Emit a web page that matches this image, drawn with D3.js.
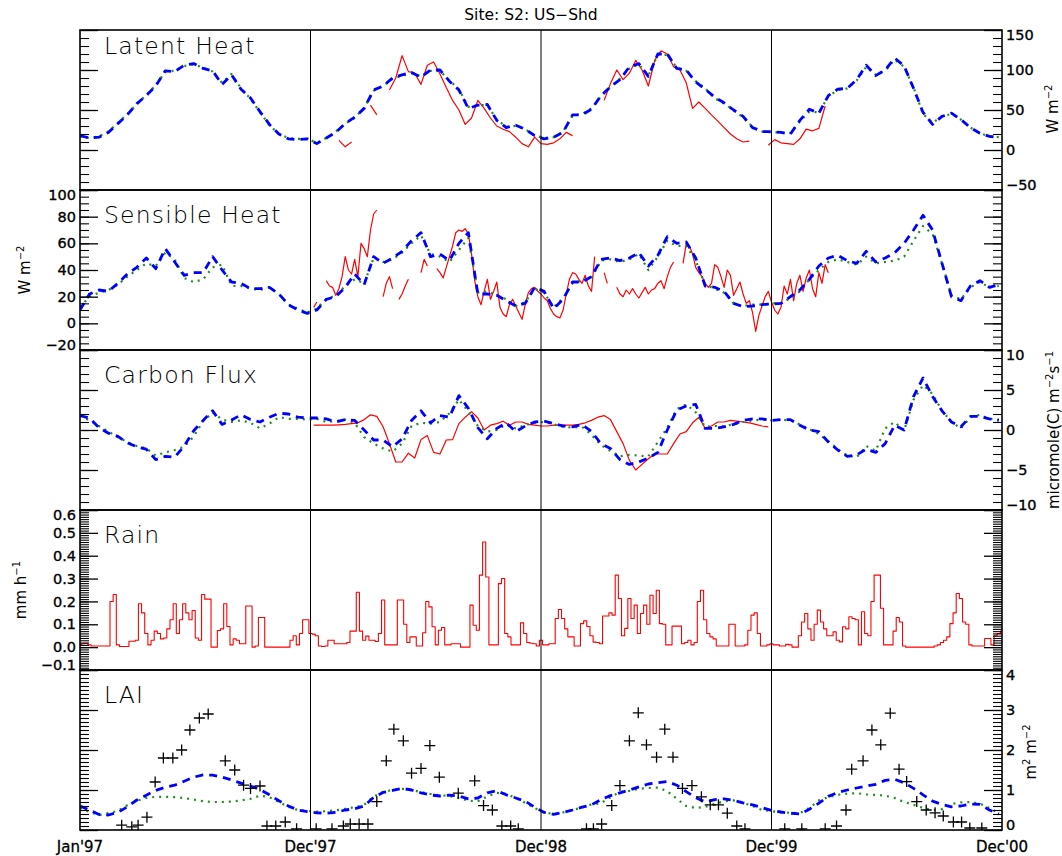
<!DOCTYPE html>
<html>
<head>
<meta charset="utf-8">
<script src="https://cdn.jsdelivr.net/npm/d3@7"></script>
<style>
  body { margin: 0; background: #fff; }
  svg text { font-family: "DejaVu Sans", "Liberation Sans", sans-serif; fill: #000; }
</style>
</head>
<body>
<svg id="chart" width="1062" height="856"></svg>
<script>
// ---------------- time axis ----------------
const dayTicks  = [0, 365, 730, 1095, 1460];
const dayLabels = ["Jan'97", "Dec'97", "Dec'98", "Dec'99", "Dec'00"];

// model series: one value every 15 days from day 0
const modelStart = 0, modelStep = 15;

// ---------------- Latent Heat (W m-2) ----------------
const leTicks = [-50, 0, 50, 100, 150];
const leTickLabels = ["\u221250", "0", "50", "100", "150"];
const leModelA = [18,15,16,22,33,44,58,68,80,99, 98,106,108,102,99,82,94,76,65,48,
  32,20,14,13,14,8,15,22,33,41, 52,75,80,90,94,97,91,100,100,86,
  75,52,56,57,37,28,31,26,18,14, 16,22,44,44,51,68,79,88,104,108,
  92,120,120,102,100,85,76,66,59,50, 42,28,23,23,22,20,37,51,46,68,
  76,77,88,106,93,100,115,105,77,47, 32,42,46,38,28,21,17,16];
const leModelB = [17,15,17,23,34,45,57,69,81,98, 99,105,107,103,98,84,95,77,64,47,
  31,20,15,14,14,9,15,23,33,40, 53,74,80,89,93,96,92,99,99,87,
  76,54,56,56,38,29,30,26,18,15, 16,23,43,45,52,67,79,89,102,107,
  93,119,119,103,99,86,77,65,58,50, 41,29,23,22,22,21,36,48,47,67,
  75,77,87,104,94,99,113,104,78,45, 34,42,45,38,28,21,17,16];
const leObsStart = 390, leObsStep = 10;
const leObs = [null,null,12,4,10,null,null,56,44,null, 75,90,118,98,96,82,106,110,95,78,
  62,50,32,40,62,52,40,30,26,23, 16,8,4,16,8,7,9,14,22,18,
  null,null,null,null,62,83,100,88,96,112, 100,80,112,124,120,104,100,84,52,60,
  52,44,36,28,20,14,10,11,null,null, 6,13,9,8,7,14,26,24,27,55];

// ---------------- Sensible Heat (W m-2) ----------------
const shTicks = [-20, 0, 20, 40, 60, 80, 100];
const shTickLabels = ["\u221220", "0", "20", "40", "60", "80", "100"];
const shModelA = [10,22,25,24,30,37,42,49,41,56, 46,36,38,38,50,40,31,30,26,26,
  27,22,14,10,7.5,10,18,20,27,37, 29,50,45,49,54,62,68,50,52,47,
  60,68,22,22,21,17,13,15,27,24, 11,18,31,31,35,48,49,47,49,53,
  43,51,65,60,61,49,28,27,24,15, 12.5,13,14,14.5,15,20,25,33,43,49,
  51,47,45,54,46,49,53,60,70,81, 70,45,20,17,28,32,27,29];
const shModelB = [12,20,23,25,29,35,40,45,43,53, 48,34,31,33,42,44,28,28,26,25,
  27,22,14,11,8,11,18,21,28,33, 30,49,46,48,53,60,66,52,50,46,
  55,64,23,24,21,18,13,16,26,23, 12,19,30,32,34,47,48,46,48,52,
  40,50,62,58,58,47,29,26,23,15, 13,14,14,15,15,19,24,33,40,46,
  48,46,44,50,45,46,47,50,62,73, 67,45,21,18,27,31,27,28];
const shObsStart = 370, shObsStep = 5;
const shObs = [12,16,null,null,32,28,27,21,26,35, 50,40,37,48,35,60,56,50,70,82,
  85,null,20,30,35,26,null,18,22,28, 33,null,null,null,38,48,43,null,null,41,
  38,34,42,50,58,68,70,69,71,67, 52,32,20,14,24,33,18,24,31,12,
  7,5,14,18,13,8,3,14,23,26, 27,24,22,19,17,11,7,5,4,10,
  22,33,38,37,33,30,36,28,24,50, null,null,38,30,null,null,27,22,20,25,
  22,26,22,19,23,27,22,25,26,30, 32,26,35,42,46,null,null,45,60,58,
  52,42,38,35,30,27,30,44,42,35, 27,40,36,21,26,31,22,15,17,8,
  -6,6,13,20,24,16,10,7,12,28, 22,33,17,30,36,24,34,40,26,20,
  38,30,44,38];

// ---------------- Carbon Flux (micromole(C) m-2 s-1) ----------------
const cfTicks = [-10, -5, 0, 5, 10];
const cfTickLabels = ["\u221210", "\u22125", "0", "5", "10"];
const cfModelA = [1.8,1.5,0.3,-0.4,-0.8,-1.6,-2.1,-2.4,-3.7,-3.3, -3.4,-2.0,-0.1,1.2,2.4,0.7,1.25,1.9,1.3,1.0,
  1.6,2.1,2.0,1.6,1.5,1.5,1.4,1.0,1.3,1.2, 0.0,-1.25,-1.25,-2.1,-1.1,1.2,2.4,0.9,1.8,1.6,
  4.3,2.7,0.3,-1.1,0.2,0.9,-0.2,0.5,1.0,1.1, 0.8,0.5,0.4,0.7,-0.2,-1.7,-2.3,-3.7,-4.3,-4.0,
  -3.5,-2.8,0.0,2.5,3.0,3.2,0.2,0.2,0.4,0.7, 1.2,1.4,1.4,1.2,1.3,1.3,0.6,0.0,-0.2,-1.5,
  -2.5,-3.3,-3.1,-2.4,-2.8,-1.7,0.6,0.0,4.2,6.5, 4.2,2.4,1.0,0.4,1.7,1.7,1.4,1.2];
const cfModelB = [1.8,1.2,0.5,-0.2,-0.9,-1.5,-2.0,-2.3,-3.2,-2.8, -2.5,-2.1,-0.8,1.1,2.2,1.3,1.0,1.2,0.9,0.2,
  0.8,1.6,1.4,1.4,1.3,1.4,1.0,1.1,1.3,0.9, -0.9,-1.7,-2.3,-2.7,-1.7,0.5,0.9,0.8,1.0,2.1,
  3.8,2.3,0.5,-0.2,0.0,0.7,0.2,0.6,0.9,1.0, 0.7,0.4,0.3,0.4,-0.6,-1.9,-2.6,-3.3,-3.1,-3.2,
  -3.3,-1.5,0.3,2.6,3.2,2.2,0.4,0.5,0.5,0.7, 1.0,1.2,1.3,1.2,1.3,1.2,0.7,0.1,-0.5,-1.4,
  -2.4,-3.2,-3.4,-2.0,-2.6,0.2,1.0,-0.1,3.8,5.6, 4.5,2.4,1.0,0.2,1.6,1.9,1.4,1.3];
const cfObsStart = 370, cfObsStep = 10;
const cfObs = [0.6,0.6,0.6,0.6,0.65,0.7,0.8,0.9,1.3,1.9, 1.7,0.4,-1.7,-4.0,-4.0,-2.9,-3.5,-1.2,-0.7,-2.8,
  -3.0,-1.25,-1.2,0.8,1.6,2.3,1.5,0.0,0.6,0.8, 1.1,0.6,1.0,1.0,0.7,0.6,0.5,0.5,0.6,0.6,
  0.6,0.6,0.7,0.9,1.2,1.6,1.8,1.3,-0.2,-1.7, -3.8,-5.0,-4.3,-3.6,-3.0,-3.0,-3.0,-1.7,-0.5,-0.2,
  0.9,1.6,0.2,0.5,1.0,1.0,1.2,1.1,1.0,0.9, 0.7,0.5,0.4];

// ---------------- Rain (mm h-1), one value every 5 days ----------------
const rainTicks = [-0.1, 0, 0.1, 0.2, 0.3, 0.4, 0.5, 0.6];
const rainTickLabels = ["\u22120.1", "0.0", "0.1", "0.2", "0.3", "0.4", "0.5", "0.6"];
const rainStart = 0, rainStep = 5;
const rain = [0.01,0.015,0.017,0.01,0.005,0.005,0.005,0.005,0.005,0.005,
  0.2,0.23,0.01,0.003,0.003,0.003,0.026,0.026,0.03,0.19,
  0.15,0.06,0.01,0.03,0.07,0.06,0.036,0.04,0.08,0.12,
  0.19,0.06,0.12,0.19,0.15,0.12,0.16,0.04,0.03,0.23,
  0.21,0.21,0.0,0.0,0.073,0.08,0.19,0.09,0.01,0.036,
  0.03,0.015,0.015,0.18,0.18,0.0,0.005,0.13,0.13,0.0,
  0,0,0,0,0,0,0,0.03,0.05,0.01,
  0.06,0.12,0.12,0.06,0.057,0.05,0.005,0.003,0.005,0.03,
  0.03,0.015,0.015,0.015,0.015,0.02,0.07,0.07,0.24,0.07,
  0.03,0.048,0.03,0.03,0.025,0.06,0.206,0.01,0.01,0.01,
  0.01,0.206,0.206,0.1,0.02,0.045,0.045,0.005,0.005,0.063,
  0.2,0.176,0.089,0.01,0.074,0.086,0.01,0.01,0.015,0.015,
  0.015,0,0,0,0.184,0.096,0.074,0.315,0.46,0.307,
  0.01,0.01,0.01,0.278,0.3,0.06,0.045,0.01,0.01,0.01,
  0.106,0.06,0.02,0.017,0.015,0.005,0.03,0.01,0.01,0.015,
  0.015,0.125,0.165,0.125,0.08,0.045,0.045,0.005,0.005,0.103,
  0.115,0.09,0.05,0.022,0.02,0.015,0.136,0.136,0.15,0.14,
  0.315,0.213,0.05,0.082,0.213,0.125,0.184,0.06,0.147,0.184,
  0.1,0.227,0.147,0.249,0.103,0.1,0.01,0.01,0.092,0.092,
  0.092,0.015,0.02,0.03,0.01,0.02,0.2,0.249,0.12,0.06,
  0.045,0.036,0.005,0.005,0.005,0.005,0.1,0.1,0.005,0.005,
  0.005,0.01,0.074,0.14,0.15,0.06,0.005,0.005,0.01,0.015,
  0.01,0.01,0.005,0.005,0.012,0.01,0,0,0.05,0.11,
  0.147,0.08,0.03,0.1,0.162,0.11,0.08,0.05,0.05,0.067,
  0.03,0.023,0.089,0.08,0.133,0.125,0.12,0.01,0.155,0.06,
  0.05,0.2,0.315,0.315,0.17,0.01,0.01,0.01,0.07,0.13,
  0.11,0.005,0,0,0,0,0,0,0,0,
  0,0.005,0.01,0.02,0.03,0.045,0.103,0.15,0.235,0.213,
  0.11,0.1,0.01,0.005,0.005,0.005,0.005,0.038,0.038,0.01,
  0.052,0.06,0.07];

// ---------------- LAI (m2 m-2) ----------------
const laiTicks = [0, 1, 2, 3, 4];
const laiTickLabels = ["0", "1", "2", "3", "4"];
const laiModelA = [0.6,0.5,0.39,0.375,0.44,0.58,0.75,0.87,0.99,1.07, 1.12,1.22,1.32,1.38,1.37,1.32,1.25,1.17,1.1,1.01,
  0.88,0.73,0.6,0.5,0.46,0.43,0.42,0.44,0.5,0.53, 0.6,0.82,0.94,0.99,1.04,1.0,0.93,0.875,0.85,0.87,
  0.85,0.78,0.8,0.93,0.98,0.88,0.8,0.72,0.57,0.44, 0.39,0.44,0.5,0.57,0.63,0.76,0.86,0.93,1.0,1.08,
  1.15,1.18,1.21,1.12,0.96,0.81,0.7,0.76,0.78,0.74, 0.68,0.63,0.56,0.49,0.45,0.42,0.4,0.52,0.67,0.84,
  0.94,1.0,1.05,1.1,1.14,1.24,1.27,1.18,1.04,0.88, 0.72,0.64,0.58,0.6,0.65,0.64,0.5,0.4];
const laiModelB = [0.55,0.45,0.37,0.42,0.48,0.62,0.73,0.8,0.83,0.83, 0.82,0.8,0.76,0.72,0.7,0.7,0.71,0.74,0.78,0.86,
  0.82,0.7,0.58,0.5,0.48,0.46,0.47,0.49,0.53,0.57, 0.63,0.84,0.95,1.0,1.03,1.0,0.95,0.9,0.87,0.85,
  0.8,0.73,0.72,0.84,0.93,0.9,0.8,0.68,0.55,0.44, 0.4,0.44,0.5,0.56,0.64,0.67,0.82,0.95,0.98,1.03,
  1.05,1.06,0.97,0.78,0.6,0.55,0.58,0.65,0.72,0.74, 0.68,0.6,0.5,0.47,0.44,0.43,0.42,0.55,0.74,0.82,
  0.88,0.91,0.92,0.89,0.875,0.86,0.8,0.7,0.63,0.55, 0.5,0.52,0.65,0.69,0.7,0.66,0.55,0.42];
const laiObsDays = [66,82,92,106,119,132,147,161,174,189,203,230,245,259,270,285,296,310,325,343,
  374,399,417,428,442,456,470,485,497,512,525,540,554,569,599,625,639,653,668,682,694,
  802,813,826,842,855,870,884,897,913,926,939,954,969,984,998,1011,1025,1040,1053,
  1116,1143,1180,1198,1213,1222,1240,1254,1268,1283,1297,1309,1325,1340,1354,1367,1383,1396,1409,1428];
const laiObs = [0.12,0.08,0.12,0.32,1.2,1.8,1.8,2.0,2.5,2.8,2.9,1.73,1.5,1.12,1.04,1.1,0.1,0.1,0.2,0.03,
  0.03,0.03,0.1,0.15,0.15,0.15,0.71,1.73,2.52,2.23,1.42,1.54,2.11,1.32,0.92,1.23,0.61,0.5,0.1,0.1,0.03,
  0.03,0.03,0.15,0.61,1.11,2.23,2.93,2.13,1.82,2.52,1.82,1.04,1.11,0.83,0.63,0.63,0.42,0.1,0.03,
  0.03,0.03,0.03,0.1,0.5,1.52,1.73,2.5,2.13,2.92,1.52,1.21,0.71,0.5,0.43,0.35,0.2,0.2,0.05,0.05];

// ---------------- layout ----------------
const X0 = 80, X1 = 1002, TOP = 30, PH = 160;
const svg = d3.select("#chart");
const x = d3.scaleLinear().domain([0, 1460]).range([X0, X1]);

const series = (start, step, vals) => vals.map((v, i) => ({ t: start + i * step, v }));

const BLUE = "#0000ff", GREEN = "#228b22", RED = "#ff0000";
const BLUE_DASH = "8,6", GREEN_DOT = "2,5";

const panels = [
  { title: "Latent Heat", titleBase: 24, domain: [-50, 150], ticks: leTicks, labels: leTickLabels, minor: 10, side: "right",
    unit: [["W  m", 0], ["\u22122", 1]], unitPos: [1058, 109],
    lines: [
      { data: series(leObsStart, leObsStep, leObs), color: RED, width: 1.2 },
      { data: series(modelStart, modelStep, leModelB), color: GREEN, width: 2.2, dash: GREEN_DOT },
      { data: series(modelStart, modelStep, leModelA), color: BLUE, width: 2.8, dash: BLUE_DASH }
    ] },
  { title: "Sensible Heat", titleBase: 32.5, domain: [-20, 100], ticks: shTicks, labels: shTickLabels, minor: 5, side: "left",
    unit: [["W  m", 0], ["\u22122", 1]], unitPos: [30, 270],
    lines: [
      { data: series(shObsStart, shObsStep, shObs), color: RED, width: 1.2 },
      { data: series(modelStart, modelStep, shModelB), color: GREEN, width: 2.2, dash: GREEN_DOT },
      { data: series(modelStart, modelStep, shModelA), color: BLUE, width: 2.8, dash: BLUE_DASH }
    ] },
  { title: "Carbon Flux", titleBase: 32.5, domain: [-10, 10], ticks: cfTicks, labels: cfTickLabels, minor: 1, side: "right",
    unit: [["micromole(C)  m", 0], ["\u22122", 1], ["s", 0], ["\u22121", 1]], unitPos: [1059, 430],
    lines: [
      { data: series(cfObsStart, cfObsStep, cfObs), color: RED, width: 1.2 },
      { data: series(modelStart, modelStep, cfModelB), color: GREEN, width: 2.2, dash: GREEN_DOT },
      { data: series(modelStart, modelStep, cfModelA), color: BLUE, width: 2.8, dash: BLUE_DASH }
    ] },
  { title: "Rain", titleBase: 32.5, domain: [-0.1, 0.6], ticks: rainTicks, labels: rainTickLabels, minor: 0.01, side: "left",
    unit: [["mm  h", 0], ["\u22121", 1]], unitPos: [26, 590],
    lines: [
      { data: series(rainStart, rainStep, rain), color: RED, width: 1.1, step: true }
    ] },
  { title: "LAI", titleBase: 33, domain: [0, 4], ticks: laiTicks, labels: laiTickLabels, minor: 0.1, side: "right",
    unit: [["m", 0], ["2", 1], [" m", 0], ["\u22122", 1]], unitPos: [1036, 752],
    lines: [
      { data: series(modelStart, modelStep, laiModelB), color: GREEN, width: 2.2, dash: GREEN_DOT },
      { data: series(modelStart, modelStep, laiModelA), color: BLUE, width: 2.8, dash: BLUE_DASH }
    ],
    crosses: laiObsDays.map((t, i) => ({ t, v: laiObs[i] })) }
];

const defs = svg.append("defs");

panels.forEach((p, k) => {
  const top = TOP + k * PH;
  const y = d3.scaleLinear().domain(p.domain).range([top + PH, top]);
  const clipId = "clip" + k;
  defs.append("clipPath").attr("id", clipId)
    .append("rect").attr("x", X0).attr("y", top).attr("width", X1 - X0).attr("height", PH);

  const g = svg.append("g");
  const plot = g.append("g").attr("clip-path", `url(#${clipId})`);

  // data lines
  p.lines.forEach(s => {
    const line = d3.line()
      .defined(d => d.v !== null)
      .x(d => x(d.t))
      .y(d => y(d.v))
      .curve(s.step ? d3.curveStep : d3.curveLinear);
    plot.append("path")
      .attr("d", line(s.data))
      .attr("fill", "none")
      .attr("stroke", s.color)
      .attr("stroke-width", s.width)
      .attr("stroke-dasharray", s.dash || null)
      .attr("stroke-linejoin", "round");
  });

  // observed LAI crosses
  if (p.crosses) {
    plot.selectAll("path.cross").data(p.crosses).join("path")
      .attr("class", "cross")
      .attr("transform", d => `translate(${x(d.t)},${y(d.v)})`)
      .attr("d", "M-5.5,0H5.5M0,-5.5V5.5")
      .attr("stroke", "#000")
      .attr("stroke-width", 1.3)
      .attr("fill", "none");
  }

  // tick marks on both sides, labels on one side only
  const [lo, hi] = p.domain;
  const nMinor = Math.round((hi - lo) / p.minor);
  const minors = d3.range(nMinor + 1).map(i => +(lo + i * p.minor).toFixed(4));
  ["left", "right"].forEach(side => {
    const axisFn = side === "left" ? d3.axisLeft : d3.axisRight;
    const xPos = side === "left" ? X0 : X1;
    const labelled = side === p.side;
    g.append("g").attr("transform", `translate(${xPos},0)`)
      .call(axisFn(y).tickValues(minors).tickSize(-9).tickFormat(""))
      .call(a => a.select(".domain").remove())
      .call(a => a.selectAll("line").attr("stroke", "#000").attr("stroke-width", 1.1));
    const ax = g.append("g").attr("transform", `translate(${xPos},0)`)
      .call(axisFn(y).tickValues(p.ticks).tickSize(-18).tickPadding(4)
        .tickFormat((d, i) => labelled ? p.labels[i] : ""))
      .call(a => a.select(".domain").remove())
      .call(a => a.selectAll("line").attr("stroke", "#000").attr("stroke-width", 1.3));
    ax.selectAll("text")
      .attr("font-family", "DejaVu Sans, sans-serif")
      .attr("font-size", 14.5)
      .attr("fill", "#000")
      .attr("stroke", "#000")
      .attr("stroke-width", 0.35)
      .attr("y", d => d === hi ? 5 : d === lo ? -5 : 0);
  });

  // panel frame
  g.append("rect").attr("x", X0).attr("y", top).attr("width", X1 - X0).attr("height", PH)
    .attr("fill", "none").attr("stroke", "#000").attr("stroke-width", 1.6);

  // panel name
  g.append("text")
    .attr("x", 104).attr("y", top + p.titleBase)
    .attr("font-family", "Lato, 'DejaVu Sans', sans-serif")
    .attr("font-weight", 300)
    .attr("font-size", 23.5)
    .attr("letter-spacing", 1.2)
    .text(p.title);

  // unit label, rotated
  const ut = g.append("text")
    .attr("transform", `translate(${p.unitPos[0]},${p.unitPos[1]}) rotate(-90)`)
    .attr("text-anchor", "middle")
    .attr("font-size", 15);
  let raised = false;
  p.unit.forEach(([txt, sup]) => {
    const ts = ut.append("tspan").text(txt);
    if (sup && !raised) { ts.attr("dy", -6).attr("font-size", 10); raised = true; }
    else if (!sup && raised) { ts.attr("dy", 6); raised = false; }
    else if (sup) ts.attr("font-size", 10);
  });
});

// year separators through every panel
svg.append("g").selectAll("line").data(dayTicks.slice(1, -1)).join("line")
  .attr("x1", d => x(d)).attr("x2", d => x(d))
  .attr("y1", TOP).attr("y2", TOP + 5 * PH)
  .attr("stroke", "#000").attr("stroke-width", 1);

// time labels
svg.append("g").selectAll("text").data(dayTicks).join("text")
  .attr("x", d => x(d)).attr("y", 852)
  .attr("text-anchor", "middle")
  .attr("font-size", 15)
  .attr("stroke", "#000").attr("stroke-width", 0.3)
  .text((d, i) => dayLabels[i]);

// title
svg.append("text")
  .attr("x", 531).attr("y", 20)
  .attr("text-anchor", "middle")
  .attr("font-size", 15.5)
  .text("Site: S2: US\u2212Shd");
</script>
</body>
</html>
